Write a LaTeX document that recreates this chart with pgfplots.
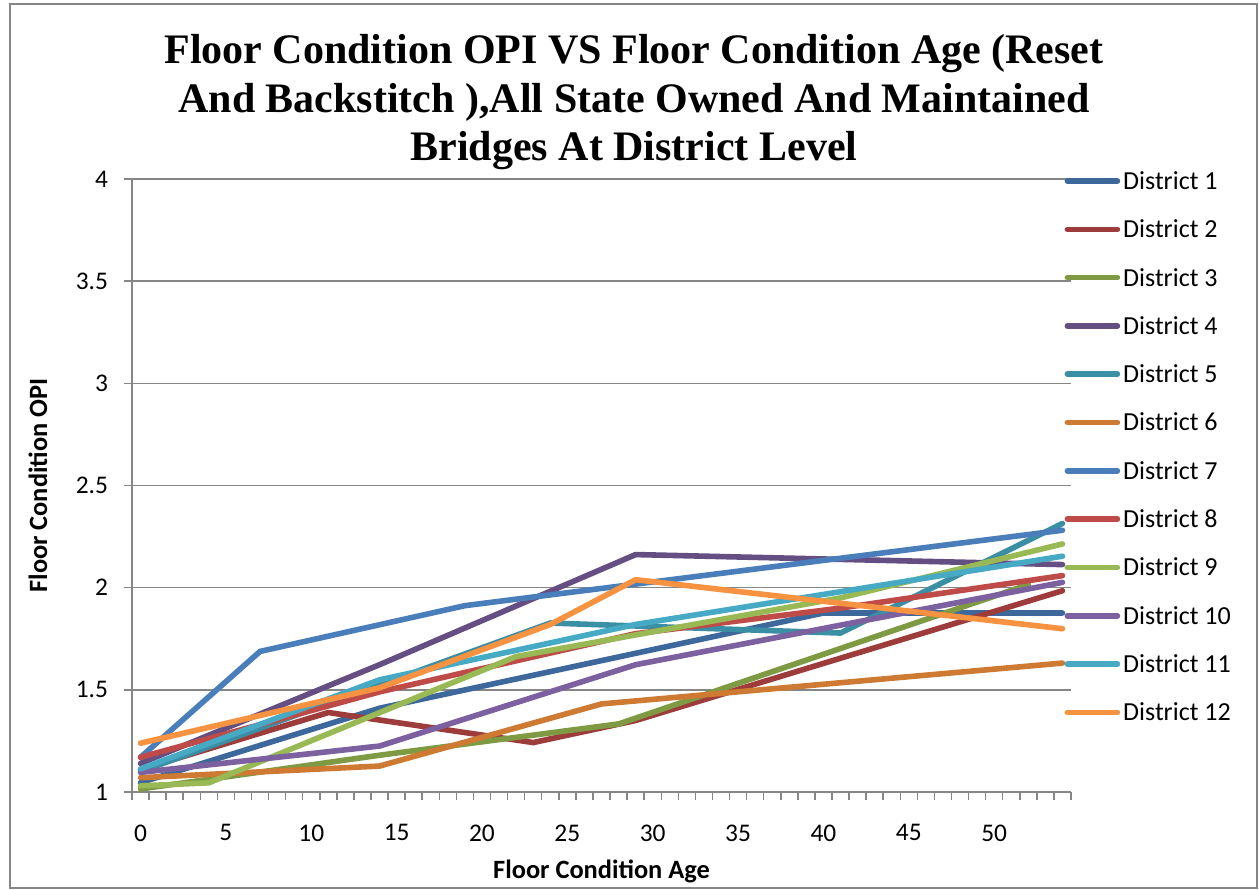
\documentclass[border=0pt]{standalone}
\usepackage{pgfplots}
\pgfplotsset{compat=1.18}
\usepackage{fontspec}
\setmainfont{Carlito}
\newfontfamily\titlefont{Liberation Serif}
\definecolor{gridgray}{RGB}{134,134,134}
\definecolor{cA}{RGB}{60,104,156}
\definecolor{cB}{RGB}{157,60,58}
\definecolor{cC}{RGB}{126,154,66}
\definecolor{cD}{RGB}{100,78,130}
\definecolor{cE}{RGB}{58,143,164}
\definecolor{cF}{RGB}{207,122,51}
\definecolor{cG}{RGB}{74,126,187}
\definecolor{cH}{RGB}{190,75,72}
\definecolor{cI}{RGB}{152,185,84}
\definecolor{cJ}{RGB}{125,96,160}
\definecolor{cK}{RGB}{70,170,197}
\definecolor{cL}{RGB}{246,146,64}
\begin{document}
\begin{tikzpicture}
\useasboundingbox (0,0) rectangle (629.5bp,-445bp);
\fill[white] (0,0) rectangle (629.5bp,-445bp);
\draw[gridgray, line width=0.6bp] (5bp,-2bp) rectangle (628.5bp,-444bp);
\begin{axis}[
  at={(66bp,-396bp)}, anchor=south west,
  scale only axis, width=469.5bp, height=306.5bp,
  xmin=-0.5, xmax=54.5, ymin=1, ymax=4,
  axis x line*=bottom, axis y line*=left,
  x axis line style={-, draw=gridgray, line width=0.75bp},
  y axis line style={-, draw=gridgray, line width=0.75bp},
  xtick={0,5,...,50}, ytick={1,1.5,...,4},
  minor xtick={-0.5,0.5,...,54.5}, minor ytick={1,1.5,...,4},
  major tick length=0pt, minor tick length=3.8bp,
  tick align=outside, xtick pos=left, ytick pos=left,
  tick style={draw=gridgray, line width=0.75bp},
  ymajorgrids, major grid style={draw=gridgray, line width=0.75bp},
  /pgf/number format/assume math mode=true,
  ticklabel style={font=\fontsize{12.7bp}{14bp}\selectfont},
  yticklabel style={xshift=-8.5bp},
  xticklabel style={yshift=-12.8bp},
  xlabel={Floor Condition Age}, ylabel={Floor Condition OPI},
  label style={font=\fontsize{13.2bp}{15bp}\selectfont\bfseries},
  xlabel style={at={(axis description cs:0.5,-0.129)}, anchor=center},
  ylabel style={at={(axis description cs:-0.1001,0.5)}, anchor=center, rotate=0},
  title={Floor Condition OPI VS Floor Condition Age (Reset\\And Backstitch ),All State Owned And Maintained\\Bridges At District Level},
  title style={at={(axis description cs:0.5346,1.106)}, anchor=center, align=center,
    font=\titlefont\fontsize{21bp}{24.4bp}\selectfont\bfseries},
  every axis plot/.append style={line width=2.8bp, line join=round, line cap=round},
  legend image code/.code={\draw[#1] (0bp,0bp) -- (25bp,0bp);},
  legend cell align=left,
  legend style={at={(axis description cs:0.9932,1.0137)}, anchor=north west,
    draw=none, fill=none, inner sep=0pt, outer sep=0pt,
    row sep=13.75bp, column sep=0.5bp,
    nodes={inner sep=1bp, text height=8.4bp, text depth=0bp,
      font=\fontsize{13bp}{15bp}\selectfont}},
]
\addplot[cA] coordinates {(0,1.046) (14,1.41) (40,1.876) (54,1.876)};
\addlegendentry{District 1}
\addplot[cB] coordinates {(0,1.11) (11,1.389) (23,1.242) (29,1.35) (54,1.985)};
\addlegendentry{District 2}
\addplot[cC] coordinates {(0,1.015) (14,1.18) (28,1.333) (52,2.015)};
\addlegendentry{District 3}
\addplot[cD] coordinates {(0,1.14) (14,1.623) (29,2.162) (54,2.113)};
\addlegendentry{District 4}
\addplot[cE] coordinates {(0,1.10) (24,1.827) (41,1.778) (54,2.314)};
\addlegendentry{District 5}
\addplot[cF] coordinates {(0,1.07) (14,1.127) (27,1.431) (54,1.631)};
\addlegendentry{District 6}
\addplot[cG] coordinates {(0,1.17) (7,1.688) (19,1.912) (54,2.281)};
\addlegendentry{District 7}
\addplot[cH] coordinates {(0,1.17) (14,1.49) (29,1.775) (41,1.90) (54,2.059)};
\addlegendentry{District 8}
\addplot[cI] coordinates {(0,1.03) (4,1.045) (22,1.663) (41,1.95) (54,2.214)};
\addlegendentry{District 9}
\addplot[cJ] coordinates {(0,1.096) (14,1.225) (29,1.623) (54,2.026)};
\addlegendentry{District 10}
\addplot[cK] coordinates {(0,1.113) (14,1.549) (29,1.82) (54,2.154)};
\addlegendentry{District 11}
\addplot[cL] coordinates {(0,1.239) (14,1.51) (24,1.82) (29,2.039) (54,1.799)};
\addlegendentry{District 12}
\end{axis}
\end{tikzpicture}
\end{document}
